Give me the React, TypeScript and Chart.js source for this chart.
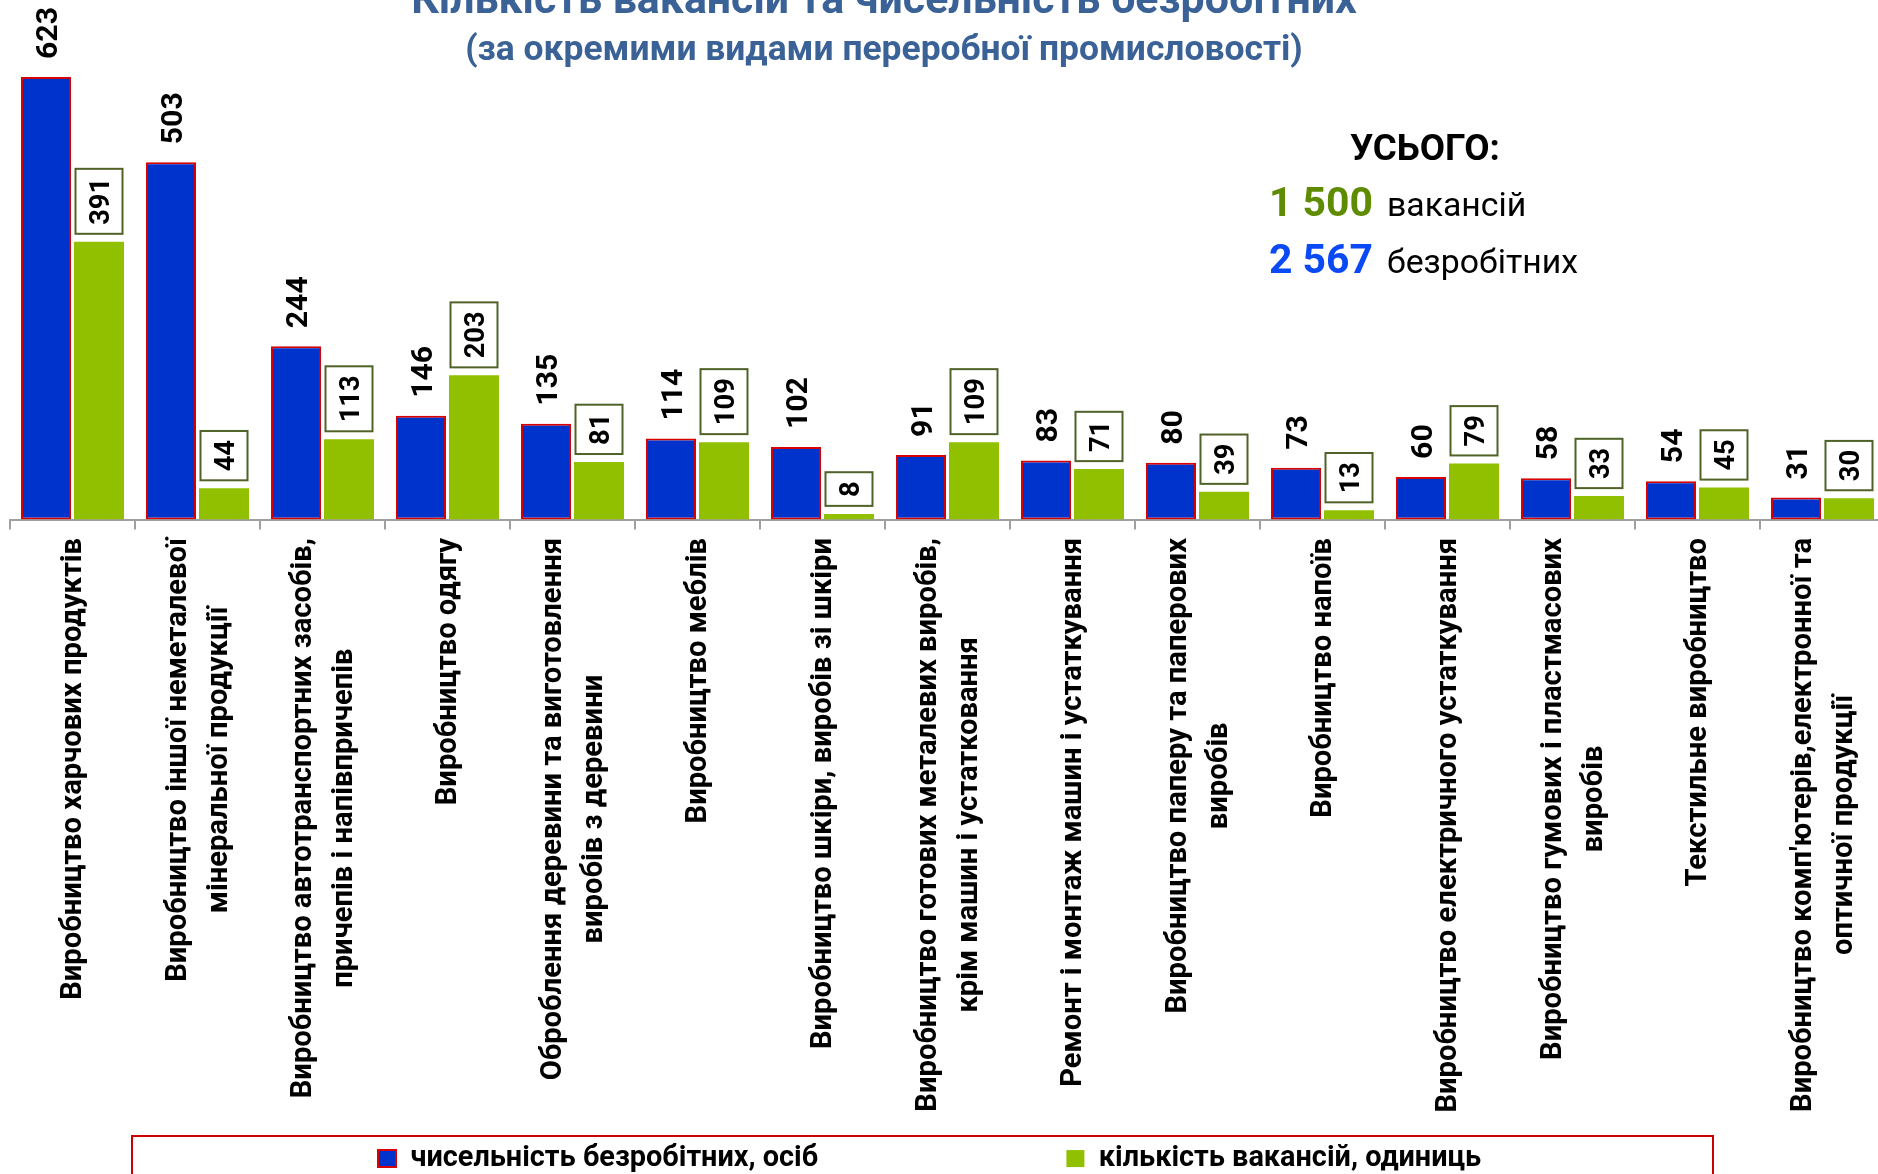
import React, { useEffect, useRef } from "react";
import { Chart, registerables } from "chart.js";

Chart.register(...registerables);

// ---------- data ----------
const categories: (string | string[])[] = [
  "Виробництво харчових продуктів",
  ["Виробництво іншої неметалевої", "мінеральної продукції"],
  ["Виробництво автотранспортних засобів,", "причепів і напівпричепів"],
  "Виробництво одягу",
  ["Оброблення деревини та виготовлення", "виробів з деревини"],
  "Виробництво меблів",
  "Виробництво шкіри, виробів зі шкіри",
  ["Виробництво готових металевих виробів,", "крім машин і устатковання"],
  "Ремонт і монтаж машин і устаткування",
  ["Виробництво паперу та паперових", "виробів"],
  "Виробництво напоїв",
  "Виробництво електричного устаткування",
  ["Виробництво гумових і пластмасових", "виробів"],
  "Текстильне виробництво",
  ["Виробництво комп'ютерів,електронної та", "оптичної продукції"],
];
const unemployed = [623, 503, 244, 146, 135, 114, 102, 91, 83, 80, 73, 60, 58, 54, 31];
const vacancies = [391, 44, 113, 203, 81, 109, 8, 109, 71, 39, 13, 79, 33, 45, 30];
const seriesNames = ["чисельність безробітних, осіб", "кількість вакансій, одиниць"];
const titleText = "Кількість вакансій та чисельність безробітних";
const subtitleText = "(за окремими видами переробної промисловості)";
const totalHeading = "УСЬОГО:";
const totalVacNum = "1 500";
const totalVacWord = "вакансій";
const totalUnempNum = "2 567";
const totalUnempWord = "безробітних";
const Y_MAX = 650;

// ---------- styles ----------
const FONT = "Roboto, 'Noto Sans', sans-serif";
const BLUE = "#0033CC";
const RED = "#D80000";
const GREEN = "#90C000";
const TITLE_BLUE = "#3B6297";
const TOTAL_GREEN = "#5F8B00";
const TOTAL_BLUE = "#0A4AF6";
const BOX_BORDER = "#4F6228";
const AXIS_GRAY = "#A0A0A0";

// canvas offset relative to the visible page
const OX = 36;
const OY = 40;

export default function App() {
  const canvasRef = useRef<HTMLCanvasElement | null>(null);

  useEffect(() => {
    const canvas = canvasRef.current;
    if (!canvas) return;

    const mctx = document.createElement("canvas").getContext("2d")!;
    const measure = (text: string, font: string) => {
      mctx.font = font;
      return mctx.measureText(text).width;
    };
    const fit = (text: string, target: number, weight: string) =>
      (100 * target) / measure(text, `${weight} 100px ${FONT}`);

    const titleS = fit(titleText, 946, "bold");
    const subS = fit(subtitleText, 838, "bold");
    const headS = fit(totalHeading, 150, "bold");
    const numS = fit(totalVacNum, 104, "bold");
    const wordS = fit(totalUnempWord, 191, "normal");
    const catS = fit("Виробництво харчових продуктів", 462, "bold");
    const blueS = fit("623", 52, "bold");
    const greenS = fit("391", 47, "bold");
    const legS = fit(seriesNames[0], 408, "bold");

    const legFont = `bold ${legS}px ${FONT}`;
    const boxW = 18;
    const boxH = 17;
    const w1 = boxW + legS / 2 + measure(seriesNames[0], legFont);
    const w2 = boxW + legS / 2 + measure(seriesNames[1], legFont);
    const legPad = 2 * (929.5 - 378) - w1 - w2;

    const chartBottom = 519 + OY;
    const textMid = 1158 + OY;
    const itemH = Math.max(legS, boxH);
    const legendTop = textMid - legPad - itemH / 2;
    const xAxisH = legendTop - chartBottom;
    const H = Math.ceil(legendTop + itemH + legPad + 10);
    const W = 1885 + OX;
    const padTop = chartBottom - Y_MAX * 0.7095;

    canvas.width = W;
    canvas.height = H;
    canvas.style.width = W + "px";
    canvas.style.height = H + "px";

    const textPlugin = {
      id: "customTexts",
      afterDraw(chart: any) {
        const ctx: CanvasRenderingContext2D = chart.ctx;
        ctx.save();

        // title & subtitle
        ctx.fillStyle = TITLE_BLUE;
        ctx.textAlign = "center";
        ctx.textBaseline = "alphabetic";
        ctx.font = `bold ${titleS}px ${FONT}`;
        ctx.fillText(titleText, 884 + OX, 13 + OY);
        ctx.font = `bold ${subS}px ${FONT}`;
        ctx.fillText(subtitleText, 884 + OX, 60 + OY);

        // totals
        ctx.textAlign = "left";
        ctx.fillStyle = "#000";
        ctx.font = `bold ${headS}px ${FONT}`;
        ctx.fillText(totalHeading, 1350 + OX, 160 + OY);
        ctx.font = `bold ${numS}px ${FONT}`;
        ctx.fillStyle = TOTAL_GREEN;
        ctx.fillText(totalVacNum, 1269 + OX, 216 + OY);
        ctx.fillStyle = TOTAL_BLUE;
        ctx.fillText(totalUnempNum, 1269 + OX, 273 + OY);
        ctx.fillStyle = "#000";
        ctx.font = `normal ${wordS}px ${FONT}`;
        ctx.fillText(totalVacWord, 1387 + OX, 216 + OY);
        ctx.fillText(totalUnempWord, 1387 + OX, 273 + OY);

        // category labels (rotated, centred lines)
        const xs = chart.scales.x;
        ctx.font = `bold ${catS}px ${FONT}`;
        ctx.fillStyle = "#000";
        const LH = 41;
        categories.forEach((c, i) => {
          const lines = Array.isArray(c) ? c : [c];
          const maxW = Math.max(...lines.map((l) => ctx.measureText(l).width));
          const cx = xs.getPixelForValue(i);
          ctx.save();
          ctx.translate(cx, 538 + OY + maxW / 2);
          ctx.rotate(-Math.PI / 2);
          ctx.textAlign = "center";
          ctx.textBaseline = "alphabetic";
          lines.forEach((l, j) => {
            const off = (j - (lines.length - 1) / 2) * LH + 0.3 * catS;
            ctx.fillText(l, 0, off);
          });
          ctx.restore();
        });

        // value labels
        const m0 = chart.getDatasetMeta(0);
        const m1 = chart.getDatasetMeta(1);
        ctx.font = `bold ${blueS}px ${FONT}`;
        m0.data.forEach((el: any, i: number) => {
          ctx.save();
          ctx.translate(el.x, el.y - 18);
          ctx.rotate(-Math.PI / 2);
          ctx.textAlign = "left";
          ctx.textBaseline = "alphabetic";
          ctx.fillStyle = "#000";
          ctx.fillText(String(unemployed[i]), 0, 0.355 * blueS);
          ctx.restore();
        });
        ctx.font = `bold ${greenS}px ${FONT}`;
        m1.data.forEach((el: any, i: number) => {
          const t = String(vacancies[i]);
          const tw = ctx.measureText(t).width;
          const len = tw + 18;
          const bw = 47;
          const bottom = el.y - 8;
          ctx.fillStyle = "#fff";
          ctx.fillRect(el.x - bw / 2, bottom - len, bw, len);
          ctx.strokeStyle = BOX_BORDER;
          ctx.lineWidth = 2;
          ctx.strokeRect(el.x - bw / 2, bottom - len, bw, len);
          ctx.save();
          ctx.translate(el.x, bottom - 9);
          ctx.rotate(-Math.PI / 2);
          ctx.textAlign = "left";
          ctx.textBaseline = "alphabetic";
          ctx.fillStyle = "#000";
          ctx.fillText(t, 0, 0.355 * greenS);
          ctx.restore();
        });

        // legend frame
        const left = 132 + OX;
        const right = 1713 + OX;
        const top = textMid - 22;
        ctx.strokeStyle = "#CC0000";
        ctx.lineWidth = 2;
        ctx.strokeRect(left, top, right - left, H + 20 - top);
        ctx.restore();
      },
    };

    const chart = new Chart(canvas, {
      type: "bar",
      data: {
        labels: categories as any,
        datasets: [
          {
            label: seriesNames[0],
            data: unemployed,
            backgroundColor: BLUE,
            borderColor: RED,
            borderWidth: 2,
            borderSkipped: false,
            categoryPercentage: 0.848,
            barPercentage: 0.944,
          },
          {
            label: seriesNames[1],
            data: vacancies,
            backgroundColor: GREEN,
            borderWidth: 0,
            categoryPercentage: 0.848,
            barPercentage: 0.944,
          },
        ],
      },
      options: {
        responsive: false,
        animation: false,
        devicePixelRatio: 1,
        layout: { padding: { top: padTop, left: 10, right: 0, bottom: 0 } },
        scales: {
          x: {
            grid: {
              display: true,
              drawOnChartArea: false,
              drawTicks: true,
              tickLength: 10,
              color: AXIS_GRAY,
              lineWidth: 2,
              offset: true,
            },
            border: { display: true, color: AXIS_GRAY, width: 2 },
            ticks: { display: false },
            afterFit: (s: any) => {
              s.height = xAxisH;
            },
          },
          y: {
            min: 0,
            max: Y_MAX,
            grid: { display: false },
            border: { display: false },
            ticks: { display: false },
            afterFit: (s: any) => {
              s.width = 36;
            },
          },
        },
        plugins: {
          legend: {
            display: true,
            position: "bottom",
            labels: {
              font: { size: legS, weight: "bold", family: FONT },
              color: "#000",
              boxWidth: boxW,
              boxHeight: boxH,
              padding: legPad,
            },
          },
          tooltip: { enabled: false },
          title: { display: false },
        },
      },
      plugins: [textPlugin],
    });

    return () => chart.destroy();
  }, []);

  return (
    <div
      style={{
        position: "fixed",
        left: 0,
        top: 0,
        width: "100vw",
        height: "100vh",
        overflow: "hidden",
        background: "#fff",
      }}
    >
      <canvas
        ref={canvasRef}
        style={{ position: "absolute", left: -OX, top: -OY }}
      />
    </div>
  );
}
